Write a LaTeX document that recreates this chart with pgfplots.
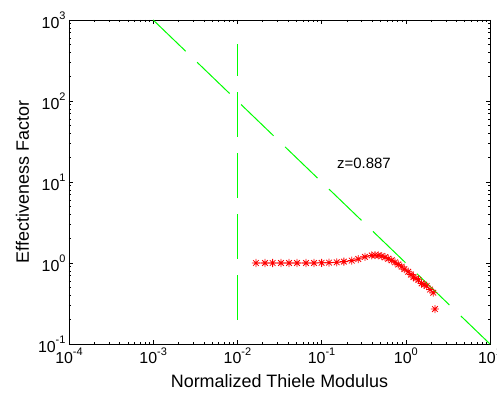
\documentclass[border=0pt]{standalone}
\usepackage{fontspec}
\setmainfont{Liberation Sans}
\usepackage{pgfplots}
\pgfplotsset{compat=1.18}
\definecolor{mgreen}{rgb}{0,1,0}
\definecolor{mred}{rgb}{1,0,0}
\newcommand{\tl}[1]{10\raisebox{0.55em}{\fontsize{11}{11}\selectfont #1}}
\pgfdeclareplotmark{mstar}{%
  \pgfpathmoveto{\pgfqpoint{-\pgfplotmarksize}{0pt}}\pgfpathlineto{\pgfqpoint{\pgfplotmarksize}{0pt}}%
  \pgfpathmoveto{\pgfqpoint{0pt}{-\pgfplotmarksize}}\pgfpathlineto{\pgfqpoint{0pt}{\pgfplotmarksize}}%
  \pgfpathmoveto{\pgfqpoint{-0.707\pgfplotmarksize}{-0.707\pgfplotmarksize}}\pgfpathlineto{\pgfqpoint{0.707\pgfplotmarksize}{0.707\pgfplotmarksize}}%
  \pgfpathmoveto{\pgfqpoint{-0.707\pgfplotmarksize}{0.707\pgfplotmarksize}}\pgfpathlineto{\pgfqpoint{0.707\pgfplotmarksize}{-0.707\pgfplotmarksize}}%
  \pgfusepathqstroke}
\begin{document}
\begin{tikzpicture}
\useasboundingbox (0,0) rectangle (497bp,396bp);
\begin{axis}[
  at={(69bp,52bp)}, anchor=south west,
  scale only axis, width=421bp, height=324bp,
  xmode=log, ymode=log,
  xmin=1e-4, xmax=10, ymin=0.1, ymax=1000,
  xtick={1e-4,1e-3,1e-2,1e-1,1,10},
  xticklabels={\tl{-4},\tl{-3},\tl{-2},\tl{-1},\tl{0},\tl{1}},
  ytick={0.1,1,10,100,1000},
  yticklabels={\tl{-1},\tl{0},\tl{1},\tl{2},\tl{3}},
  tick label style={font=\fontsize{16}{16}\selectfont},
  label style={font=\fontsize{18}{18}\selectfont},
  xlabel={Normalized Thiele Modulus},
  ylabel={Effectiveness Factor},
  xlabel style={yshift=-4bp},
  ylabel style={yshift=2bp},
  major tick length=4.5bp, minor tick length=2.5bp,
  tick style={black, line width=0.6bp},
  axis line style={black, line width=0.8bp},
  tick align=inside,
  clip=false,
]
\addplot[mgreen, line width=1bp, dash pattern=on 45bp off 16bp] coordinates {(1e-3,1000) (10,0.1)};
\addplot[mgreen, line width=1.5bp, dash pattern=on 45bp off 16bp] coordinates {(0.01,0.2) (0.01,500)};
\addplot[mred, line width=0.6bp, mark=mstar, mark size=4bp, mark options={line width=0.8bp}] coordinates {
(0.0166,1.0)(0.0213,1.0)(0.0262,1.0)(0.033,1.0)(0.041,1.0)(0.051,1.0)(0.0653,1.0)(0.0813,1.0)
(0.100,1.005)(0.1225,1.01)(0.151,1.02)(0.184,1.04)(0.228,1.07)(0.273,1.12)(0.327,1.19)(0.394,1.24)
(0.431,1.25)(0.471,1.24)(0.517,1.22)(0.567,1.18)(0.62,1.13)(0.68,1.08)(0.745,1.02)(0.815,0.96)
(0.893,0.90)(0.96,0.84)(1.07,0.78)(1.15,0.72)(1.23,0.67)(1.32,0.645)(1.41,0.62)(1.54,0.56)
(1.65,0.54)(1.77,0.52)(1.94,0.47)(2.12,0.43)};
\addplot[mred, only marks, mark=mstar, mark size=4bp, mark options={line width=0.8bp}] coordinates {(2.22,0.27)};
\node[anchor=base west, font=\fontsize{15}{15}\selectfont, inner sep=0pt] at (rel axis cs:0.6366,0.543) {z=0.887};
\end{axis}
\end{tikzpicture}
\end{document}
